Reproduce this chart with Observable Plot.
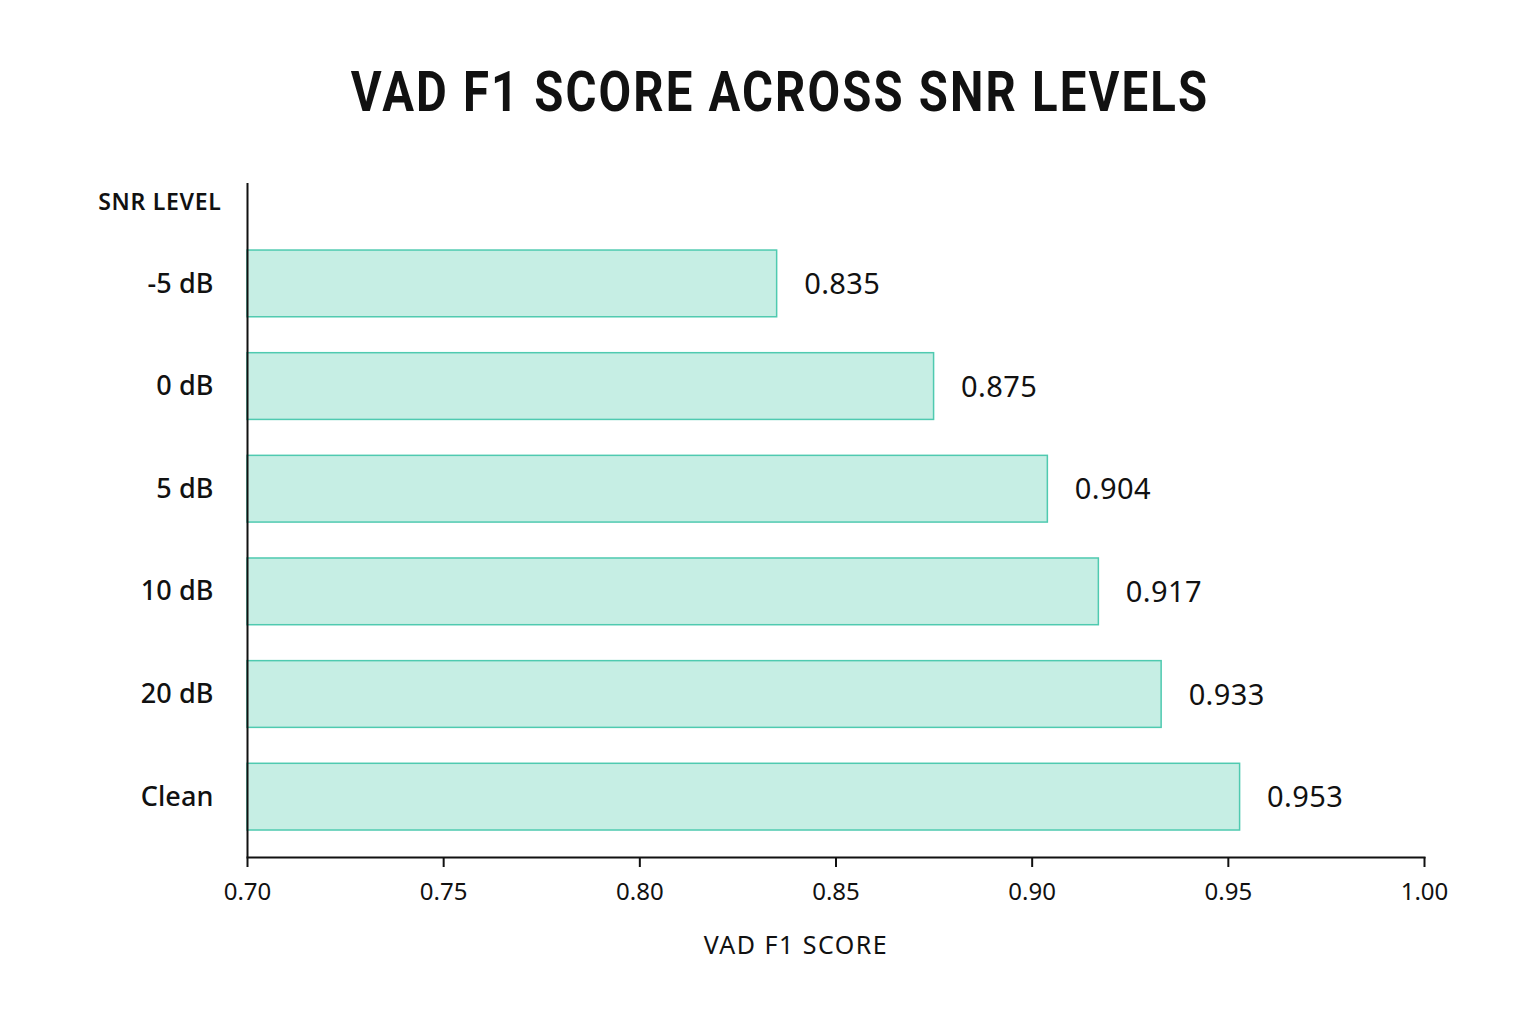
<!DOCTYPE html>
<html>
<head>
<meta charset="utf-8">
<script src="https://cdn.jsdelivr.net/npm/d3@7"></script>
<script src="https://cdn.jsdelivr.net/npm/@observablehq/plot@0.6"></script>
<style>
  html, body { margin: 0; padding: 0; background: #ffffff; }
  body { width: 1536px; height: 1024px; overflow: hidden; font-family: "Noto Sans", sans-serif; }
  #title { height: 150px; box-sizing: border-box; padding-top: 59px; padding-left: 24px; text-align: center;
    line-height: 66px; }
  #title span { display: inline-block; transform: scaleX(0.86); transform-origin: center;
    font-family: Roboto, "Noto Sans", sans-serif;
    font-size: 55px; font-weight: 700; letter-spacing: 2.5px; color: #111; }
  #chart svg { display: block; }
</style>
</head>
<body>
<div id="title"><span>VAD F1 SCORE ACROSS SNR LEVELS</span></div>
<div id="chart"></div>
<script>
const levels = ["-5 dB", "0 dB", "5 dB", "10 dB", "20 dB", "Clean"];
const f1Scores = [0.835, 0.875, 0.904, 0.917, 0.933, 0.953];
const xDomain = [0.70, 1.00];
const xTicks = [0.70, 0.75, 0.80, 0.85, 0.90, 0.95, 1.00];
const yLabel = "SNR LEVEL";
const xLabel = "VAD F1 SCORE";

const data = levels.map((level, i) => ({level, score: f1Scores[i]}));
const fmtScore = d3.format(".3f");

const chart = Plot.plot({
  width: 1536,
  height: 840,
  marginTop: 33,
  marginBottom: 133,
  marginLeft: 247,
  marginRight: 112,
  style: {fontFamily: "Noto Sans, sans-serif", color: "#111", background: "#ffffff"},
  x: {domain: xDomain, ticks: xTicks, tickFormat: d3.format(".2f")},
  y: {domain: levels, paddingInner: 0.35, paddingOuter: 0.458, align: 0.713, round: false},
  marks: [
    Plot.barX(data, {
      y: "level",
      x1: () => xDomain[0],
      x2: "score",
      fill: "#c6eee4",
      stroke: "#4fcab0",
      strokeWidth: 1.5
    }),
    Plot.text(data, {
      y: "level",
      x: "score",
      text: d => fmtScore(d.score),
      textAnchor: "start",
      dx: 27,
      dy: 1,
      fontSize: 29,
      fill: "#111"
    }),
    Plot.axisY({
      tickSize: 0,
      tickPadding: 34,
      fontSize: 27,
      fontWeight: 500,
      label: null
    }),
    Plot.axisX({
      ticks: xTicks,
      tickFormat: d3.format(".2f"),
      tickSize: 10,
      tickPadding: 15,
      fontSize: 24,
      strokeWidth: 2,
      label: null
    }),
    Plot.ruleX([xDomain[0]], {stroke: "#111", strokeWidth: 2}),
    Plot.frame({anchor: "bottom", stroke: "#111", strokeWidth: 2}),
    Plot.text([yLabel], {
      frameAnchor: "top-left",
      dx: -26,
      dy: 10,
      textAnchor: "end",
      fontSize: 23,
      fontWeight: 600,
      fill: "#111"
    }),
    Plot.text([xLabel], {
      frameAnchor: "bottom",
      dx: -40,
      dy: 96,
      fontSize: 25,
      fill: "#111"
    })
  ]
});

// letter-spacing tweaks on the rendered text
const spacing = new Map([[yLabel, "0.7px"], [xLabel, "1.5px"]]);
f1Scores.forEach(v => spacing.set(fmtScore(v), "0.4px"));
levels.forEach(l => spacing.set(l, "0.1px"));
d3.select(chart).selectAll("text").each(function() {
  const s = spacing.get(this.textContent);
  if (s) this.style.letterSpacing = s;
});
document.getElementById("chart").appendChild(chart);
</script>
</body>
</html>
